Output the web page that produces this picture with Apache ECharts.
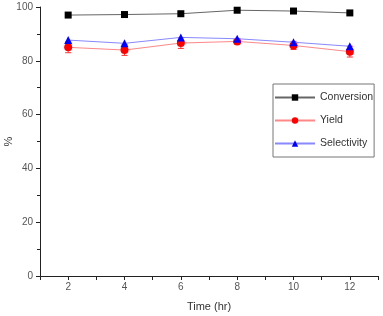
<!DOCTYPE html>
<html><head><meta charset="utf-8">
<script src="https://cdn.jsdelivr.net/npm/echarts@6/dist/echarts.min.js"></script>
<style>html,body{margin:0;padding:0;background:#fff}#c{width:383px;height:316px}</style>
</head><body><div id="c"></div>
<script>
const times = [2, 4, 6, 8, 10, 12];
const conversion = [97.0, 97.2, 97.5, 98.8, 98.5, 97.8];
const yieldVals = [85.0, 84.0, 86.6, 87.2, 85.7, 83.4];
const yieldErr = [2.0, 2.0, 2.0, 1.0, 1.5, 2.0];
const selectivity = [87.7, 86.5, 88.7, 88.2, 86.9, 85.4];
const seriesNames = ['Conversion', 'Yield', 'Selectivity'];

const font = 'Liberation Sans, Arial, sans-serif';
const pair = (xs, ys) => xs.map((x, i) => [x, ys[i]]);
const chart = echarts.init(document.getElementById('c'), null, {renderer: 'canvas'});
chart.setOption({
  animation: false,
  backgroundColor: '#fff',
  grid: {left: 40, top: 7, right: 5, bottom: 40, containLabel: false, outerBoundsMode: 'none'},
  xAxis: {
    type: 'value', min: 1, max: 13, interval: 1,
    name: 'Time (hr)', nameLocation: 'middle', nameGap: 25, nameMoveOverlap: false,
    nameTextStyle: {fontFamily: font, fontSize: 11, color: '#333'},
    axisLine: {lineStyle: {color: '#222', width: 1}},
    axisTick: {length: 4, lineStyle: {color: '#222'}},
    axisLabel: {fontFamily: font, fontSize: 10, color: '#555', margin: 6,
      formatter: v => (v % 2 === 0 ? String(v) : '')},
    splitLine: {show: false}
  },
  yAxis: {
    type: 'value', min: 0, max: 100, interval: 20,
    name: '%', nameLocation: 'middle', nameGap: 26, nameRotate: 90, nameMoveOverlap: false,
    nameTextStyle: {fontFamily: font, fontSize: 11, color: '#333'},
    axisLine: {show: true, lineStyle: {color: '#222', width: 1}},
    axisTick: {show: true, length: 4, lineStyle: {color: '#222'}},
    minorTick: {show: true, splitNumber: 2, length: 3, lineStyle: {color: '#222'}},
    axisLabel: {fontFamily: font, fontSize: 10, color: '#555', margin: 7},
    splitLine: {show: false}
  },
  legend: {
    orient: 'vertical', left: 273, top: 84,
    data: seriesNames,
    backgroundColor: '#fff', borderColor: '#777', borderWidth: 1,
    padding: [8, 1, 8, 1], itemGap: 12, itemWidth: 40, itemHeight: 8,
    textStyle: {fontFamily: font, fontSize: 10.5, color: '#333', padding: [0, 0, 0, 0]}
  },
  series: [
    {
      name: 'Conversion', type: 'line', data: pair(times, conversion),
      symbol: 'rect', symbolSize: 7,
      itemStyle: {color: '#000'}, lineStyle: {color: '#666', width: 1}, z: 3
    },
    {
      type: 'custom', name: 'yieldErr', silent: true, z: 2,
      data: times.map((t, i) => [t, yieldVals[i] - yieldErr[i], yieldVals[i] + yieldErr[i]]),
      renderItem: (params, api) => {
        const lo = api.coord([api.value(0), api.value(1)]);
        const hi = api.coord([api.value(0), api.value(2)]);
        const w = 3;
        const st = {stroke: '#ff3333', lineWidth: 1};
        return {type: 'group', children: [
          {type: 'line', shape: {x1: lo[0], y1: lo[1], x2: hi[0], y2: hi[1]}, style: st},
          {type: 'line', shape: {x1: lo[0]-w, y1: lo[1], x2: lo[0]+w, y2: lo[1]}, style: st},
          {type: 'line', shape: {x1: hi[0]-w, y1: hi[1], x2: hi[0]+w, y2: hi[1]}, style: st}
        ]};
      }
    },
    {
      name: 'Yield', type: 'line', data: pair(times, yieldVals),
      symbol: 'circle', symbolSize: 8,
      itemStyle: {color: '#ff0000'}, lineStyle: {color: '#ff8888', width: 1}, z: 3
    },
    {
      name: 'Selectivity', type: 'line', data: pair(times, selectivity),
      symbol: 'triangle', symbolSize: 8,
      itemStyle: {color: '#0000ff'}, lineStyle: {color: '#8888ff', width: 1}, z: 4
    }
  ]
});
</script></body></html>
